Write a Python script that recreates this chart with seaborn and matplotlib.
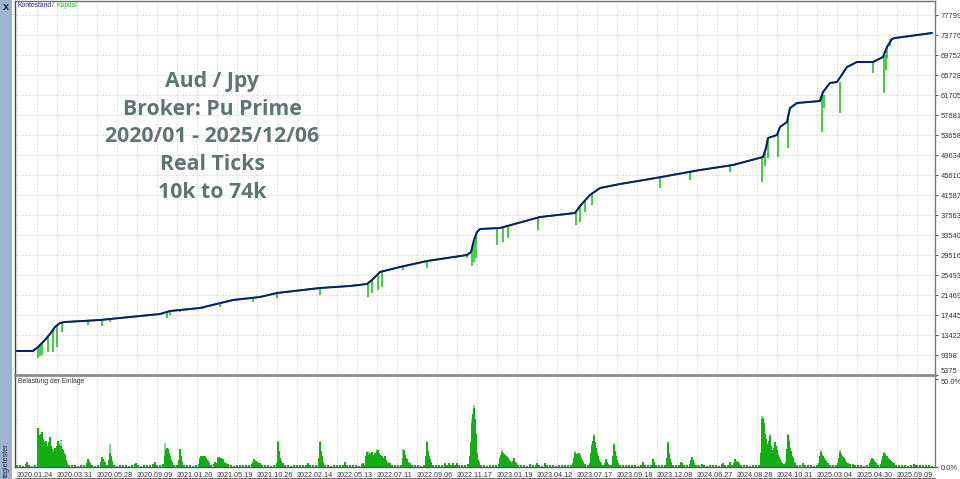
import matplotlib
matplotlib.use("Agg")
import matplotlib.pyplot as plt
import seaborn as sns
from matplotlib.patches import Rectangle

# balance curve (Kontostand): x = trade position, value in account currency
bal_x = [15, 33, 38, 45, 50, 55, 60, 65, 100, 130,
         160, 170, 200, 233, 260, 277, 320, 350, 367, 372,
         380, 400, 427, 467, 471, 474, 477, 480, 500, 540,
         575, 580, 590, 600, 620, 650, 700, 733, 763, 766,
         768, 777, 780, 787, 790, 797, 820, 823, 830, 837,
         843, 847, 857, 873, 883, 887, 892, 895, 932]
bal_usd = [10204, 10204, 11000, 12417, 13624, 15033, 15837, 16039, 16441, 17045,
           17648, 18252, 18856, 20465, 21069, 21873, 22880, 23282, 23684, 24489,
           26099, 27105, 28312, 29519, 30123, 32537, 34147, 34750, 34951, 37164,
           37969, 39377, 41591, 42999, 43804, 44810, 46621, 47627, 49237, 51047,
           53059, 53663, 55272, 56279, 59096, 60102, 60505, 62315, 64126, 64327,
           66138, 67345, 68351, 68351, 69357, 71369, 72978, 73178, 74184]

# equity (Kapital) drawdown spikes below the balance
spike_x = [38, 40, 42, 48, 53, 57, 62, 88, 102, 110,
           167, 170, 180, 203, 220, 253, 277, 320, 368, 372,
           378, 382, 403, 427, 467, 472, 474, 476, 497, 503,
           508, 538, 576, 580, 585, 592, 660, 690, 720, 730,
           762, 765, 768, 778, 788, 822, 824, 840, 873, 884,
           886, 887, 890]
spike_top = [11000, 11300, 11700, 13200, 14500, 15300, 15900, 16300, 16450, 16600,
             18000, 18250, 18450, 18900, 19900, 20900, 21870, 22880, 23800, 24490,
             25600, 26300, 27200, 28310, 29520, 31000, 32540, 33600, 34900, 35200,
             35500, 37100, 38200, 39380, 40500, 41900, 45100, 46300, 47200, 47500,
             49100, 50500, 53060, 53900, 57000, 61500, 61800, 64300, 68350, 69500,
             69800, 71370, 73000]
spike_low = [8795, 9198, 9399, 10003, 10003, 11009, 14027, 15435, 15234, 16039,
             16844, 17447, 18051, 18654, 19057, 20063, 20867, 21471, 21069, 21873,
             22477, 23080, 26501, 26903, 28915, 27306, 28110, 28915, 31531, 32135,
             32939, 34549, 35555, 36158, 38170, 39579, 42999, 44609, 47023, 46218,
             44206, 47400, 49036, 49237, 51047, 54266, 59096, 58090, 66138, 62113,
             66741, 69155, 71500]

y_ticks = [5375, 9398, 13422, 17445, 21469, 25493, 29516, 33540, 37563, 41587,
           45610, 49634, 53658, 57681, 61705, 65728, 69752, 73776, 77799]

date_labels = ["2020.01.24", "2020.03.31", "2020.05.28", "2020.09.09", "2021.01.20",
               "2021.05.19", "2021.10.26", "2022.02.14", "2022.05.13", "2022.07.11",
               "2022.09.06", "2022.11.17", "2023.01.19", "2023.04.12", "2023.07.17",
               "2023.09.18", "2023.12.08", "2024.06.27", "2024.08.28", "2024.10.31",
               "2025.03.04", "2025.04.30", "2025.09.09"]

# deposit load (Belastung der Einlage), percent
load_x = [17, 20, 23, 26, 27, 29, 32, 35, 38, 39, 40, 41, 42, 43, 44, 45, 46, 47, 48, 49,
          50, 51, 52, 53, 54, 55, 56, 57, 58, 59, 60, 61, 62, 63, 64, 65, 66, 67, 69, 72,
          75, 78, 81, 84, 87, 88, 89, 90, 92, 95, 98, 101, 102, 103, 104, 105, 107, 109, 110, 111,
          112, 114, 117, 120, 123, 126, 129, 132, 135, 136, 138, 141, 144, 147, 150, 153, 155, 157, 160, 163,
          165, 166, 167, 168, 169, 170, 171, 172, 174, 177, 179, 180, 181, 182, 184, 187, 190, 193, 196, 199,
          200, 201, 202, 203, 204, 205, 206, 207, 208, 209, 211, 214, 215, 217, 218, 219, 220, 221, 222, 223,
          224, 225, 226, 228, 231, 234, 237, 240, 243, 246, 249, 252, 253, 254, 255, 256, 257, 258, 259, 260,
          262, 265, 268, 271, 274, 277, 278, 279, 280, 281, 282, 283, 285, 288, 291, 294, 297, 300, 303, 306,
          308, 310, 313, 316, 319, 320, 321, 322, 323, 325, 328, 331, 334, 337, 340, 343, 345, 347, 350, 353,
          356, 359, 362, 363, 365, 366, 367, 368, 369, 370, 371, 372, 373, 374, 375, 376, 377, 378, 379, 380,
          381, 382, 383, 384, 385, 386, 387, 388, 390, 392, 395, 398, 401, 403, 404, 405, 406, 407, 408, 410,
          412, 415, 418, 421, 424, 426, 427, 428, 429, 430, 431, 433, 436, 439, 442, 445, 447, 449, 451, 453,
          455, 457, 459, 462, 465, 468, 470, 471, 472, 473, 474, 475, 476, 477, 478, 479, 481, 484, 487, 490,
          493, 496, 499, 500, 501, 502, 503, 504, 505, 506, 507, 508, 509, 510, 511, 512, 513, 514, 515, 516,
          518, 521, 524, 527, 530, 533, 536, 537, 539, 542, 545, 547, 550, 553, 556, 559, 562, 565, 568, 571,
          573, 574, 575, 576, 577, 578, 579, 580, 581, 582, 583, 585, 588, 590, 591, 592, 593, 594, 595, 596,
          597, 598, 599, 600, 601, 603, 605, 606, 607, 608, 610, 612, 613, 614, 615, 616, 617, 618, 620, 623,
          626, 629, 632, 635, 638, 641, 643, 645, 648, 651, 653, 654, 656, 659, 662, 665, 667, 668, 669, 670,
          671, 673, 676, 679, 681, 682, 684, 687, 690, 691, 692, 693, 694, 696, 699, 702, 704, 707, 710, 713,
          716, 719, 722, 723, 725, 728, 730, 732, 734, 735, 736, 737, 738, 739, 741, 744, 747, 750, 753, 756,
          759, 761, 762, 763, 764, 765, 766, 767, 768, 769, 770, 771, 772, 773, 774, 775, 776, 777, 778, 779,
          780, 781, 782, 784, 786, 787, 788, 789, 790, 791, 792, 793, 794, 795, 797, 800, 803, 805, 808, 811,
          814, 817, 819, 820, 821, 822, 823, 824, 825, 826, 827, 828, 830, 833, 836, 838, 839, 840, 841, 842,
          843, 844, 845, 846, 847, 848, 850, 853, 855, 858, 861, 864, 867, 870, 871, 872, 873, 874, 875, 876,
          878, 881, 882, 883, 884, 885, 886, 887, 888, 889, 890, 891, 892, 893, 894, 896, 899, 902, 905, 908,
          911, 914, 915, 917, 920, 923, 926, 929, 932]
load_pct = [1.0, 1.2, 0.8, 1.5, 3.0, 1.2, 0.8, 1.0, 22, 18, 17, 19, 20, 16, 14, 13, 15, 12, 11, 14,
            17, 12, 10, 8.5, 9, 11, 9.5, 12, 15, 13, 11, 12, 10, 9.5, 8, 7, 4, 2, 1.2, 0.9,
            1.0, 0.8, 1.1, 0.9, 2.5, 4.5, 3.5, 2.5, 1.0, 0.8, 1.0, 3, 5.7, 4.5, 3.5, 3, 1.2, 4, 8, 6,
            3.5, 1, 0.8, 1, 0.9, 1.1, 0.8, 1, 1.5, 2.5, 1, 0.8, 1, 0.9, 1.1, 1.5, 3, 1.2, 0.9, 1.5,
            6, 9.6, 11, 10, 8, 6, 4, 3, 1.2, 1, 4, 10, 6, 3, 1.2, 0.9, 1, 0.8, 1, 1.5,
            5, 6, 6.5, 6, 5.5, 6, 5, 4, 3.5, 2.5, 1, 1.5, 3, 2, 5, 5.5, 4.5, 5, 4, 4.5,
            3, 2.5, 2, 1.5, 1, 0.8, 1, 0.9, 1, 1.2, 0.9, 1.5, 3, 4.5, 3.5, 3.5, 3, 2.5, 2, 2,
            1.2, 0.9, 1, 0.8, 1, 2, 14, 9, 5, 3.5, 2.5, 2, 1.2, 1, 0.8, 1, 0.9, 1, 1, 1.2,
            2, 1, 0.9, 1, 5, 14, 9, 6, 3, 1.2, 1, 0.8, 1, 1, 0.9, 1.2, 3, 1, 0.9, 1,
            1, 0.8, 1.5, 2, 1.2, 6, 8.5, 7, 6, 8, 7, 8.5, 7, 6, 8, 7.5, 9, 9.5, 8, 7,
            6.5, 6, 5, 4.5, 6, 4, 3, 2.5, 2, 1, 0.9, 1.2, 1, 5, 9.5, 7, 5, 4.5, 3, 2,
            1, 0.9, 1, 0.8, 1, 6, 14, 9, 6, 4.5, 3, 1.2, 1, 0.9, 1, 2.5, 1, 2, 1, 2.5,
            1, 2.5, 1, 0.9, 1, 1.5, 6, 14, 25, 30, 33.5, 27, 19, 8, 4, 3, 1.2, 1, 0.8, 1,
            0.9, 1, 1.5, 5, 7, 8.5, 8, 7.5, 7, 6, 5.5, 5, 4, 3.5, 3, 2.5, 3.5, 5, 3, 2,
            1, 0.9, 1, 0.8, 1.5, 1, 0.9, 2.3, 1, 0.8, 2.3, 1, 0.9, 1, 0.8, 1, 1.2, 0.9, 1, 1.2,
            2, 5, 8, 7, 7.5, 6, 8, 7, 5, 4, 3, 1.5, 1, 2, 8, 12.5, 15, 17.6, 14, 11,
            8, 6, 4, 3, 2, 1, 2, 4.5, 3, 1.5, 1, 1.2, 6, 12.5, 9, 6, 4, 2, 1, 0.9,
            1, 1, 0.9, 1, 0.8, 1, 3, 1, 0.9, 1, 4.5, 3, 1, 1, 0.9, 1, 5, 13.6, 8, 4.5,
            3, 1.2, 0.9, 1, 3, 2, 1, 0.9, 1.5, 4, 5.7, 4, 2.5, 1, 0.9, 1.5, 1, 0.8, 1, 0.9,
            1, 0.8, 1.5, 2.5, 1, 1, 3, 1.2, 2, 4.5, 3.5, 2.5, 3, 2, 1, 0.9, 1, 0.8, 1, 0.9,
            1, 8, 27, 28, 25, 19, 16, 11, 13, 15, 17.6, 12, 9.5, 8, 11, 14, 12, 9.5, 7, 5.5,
            4.5, 3, 2, 1.5, 3, 10, 18, 15, 11, 9, 6.5, 5, 3, 2, 1.2, 1, 2, 1, 0.9, 1,
            0.8, 1, 2, 6, 8.5, 7, 6.5, 5, 4, 3.5, 2.5, 2, 1, 0.9, 1, 2, 5, 8.5, 7.5, 6.5,
            5.7, 5, 4, 3, 2.5, 2, 1.5, 1.5, 1, 0.9, 1, 0.8, 1, 2, 4, 5, 4.5, 3.5, 3, 2,
            1, 1.5, 4, 6.5, 8, 7.5, 6.5, 6, 5, 4.5, 4, 3.5, 3, 2.5, 2, 1.2, 1, 0.9, 1, 0.8,
            1, 1.5, 1.2, 1, 0.9, 1, 0.9, 1, 0.8]

# lighter "peak" load drawn behind the main bars
peak_x = [40, 48, 61, 110, 165, 278, 320, 368, 377, 403, 427, 472, 474, 502, 575,
          594, 614, 668, 762, 770, 788, 821, 840, 884]
peak_pct = [18, 13, 15.5, 13, 13.6, 15, 15, 9, 10, 10, 15, 27, 35, 9.5, 9,
            19, 13.5, 14.5, 29, 19, 19, 9.5, 9.5, 8.5]

title_lines = ["Aud / Jpy", "Broker: Pu Prime", "2020/01 - 2025/12/06", "Real Ticks", "10k to 74k"]

sns.set_theme(style="white")
plt.rcParams['font.family'] = ['Liberation Sans', 'DejaVu Sans']

W, H = 960, 479
fig = plt.figure(figsize=(W / 100, H / 100), dpi=100)
fig.patch.set_facecolor("white")


def fx(px):
    return px / W


def fy(py):
    return 1 - py / H


navy = "#0C1C72"
green = "#12BE12"
grid_kw = dict(color="#D2D2D2", linestyle=(0, (2, 2)), linewidth=0.6)

ax = fig.add_axes([fx(15), fy(375), 920 / W, 374 / H])
ax2 = fig.add_axes([fx(15), fy(467), 920 / W, 90 / H])

tick_pos = [17 + 40 * i for i in range(len(date_labels))]
minor_pos = [37 + 40 * i for i in range(len(date_labels))]

# main panel
sns.lineplot(x=bal_x, y=bal_usd, ax=ax, color=green, linewidth=1.3)
ax.vlines(spike_x, spike_low, spike_top, color=green, linewidth=1.1)
sns.lineplot(x=bal_x, y=bal_usd, ax=ax, color=navy, linewidth=1.4)
ax.set_xlim(15, 935)
ax.set_ylim(5375, 80624)
ax.set_yticks(y_ticks)
ax.set_yticklabels([str(v) for v in y_ticks])
ax.yaxis.tick_right()
ax.tick_params(axis="y", length=2, width=0.6, pad=2, labelsize=5.4, colors="#333333")
ax.get_yticklabels()[0].set_va("bottom")
ax.set_xticks(tick_pos)
ax.set_xticks(minor_pos, minor=True)
ax.tick_params(axis="x", which="both", length=0, labelbottom=False)
ax.grid(True, axis="x", which="both", **grid_kw)
ax.grid(True, axis="y", which="major", **grid_kw)
ax.set_xlabel("")
ax.set_ylabel("")
for side, col, lw in [("top", "#6E6E6E", 1.0), ("left", "#4A4A4A", 1.0),
                      ("right", "#7A7A7A", 1.0), ("bottom", "#8A8A8A", 2.0)]:
    ax.spines[side].set_color(col)
    ax.spines[side].set_linewidth(lw)

# deposit load panel
ax2.bar(peak_x, peak_pct, width=2.0, color="#86D886", linewidth=0)
ax2.bar(load_x, load_pct, width=2.2, color="#14AE14", linewidth=0)
ax2.set_xlim(15, 935)
ax2.set_ylim(0, 51.1)
ax2.set_yticks([0, 50])
ax2.set_yticklabels(["0.0%", "50.0%"])
ax2.yaxis.tick_right()
ax2.tick_params(axis="y", length=2, width=0.6, pad=2, labelsize=5.4, colors="#333333")
ax2.get_yticklabels()[1].set_va("top")
ax2.set_xticks(tick_pos)
ax2.set_xticklabels(date_labels, ha="left")
ax2.set_xticks(minor_pos, minor=True)
ax2.tick_params(axis="x", which="major", length=2, width=0.6, pad=1.5, labelsize=5.2, colors="#333333")
ax2.tick_params(axis="x", which="minor", length=0)
ax2.grid(True, axis="x", which="both", **grid_kw)
ax2.spines["top"].set_visible(False)
for side, col in [("left", "#4A4A4A"), ("right", "#7A7A7A"), ("bottom", "#555555")]:
    ax2.spines[side].set_color(col)
    ax2.spines[side].set_linewidth(1.0)

# panel captions
fig.text(fx(18), fy(5.5), "Kontostand", fontsize=4.9, color="#24248A", va="center")
fig.text(fx(52.5), fy(5.5), "/", fontsize=4.9, color="#444444", va="center")
fig.text(fx(56.5), fy(5.5), "Kapital", fontsize=4.9, color="#2DB52D", va="center")
fig.text(fx(18), fy(381.5), "Belastung der Einlage", fontsize=4.9, color="#333333", va="center")

# overlay title
fig.text(fx(212), fy(137), "\n".join(title_lines), ha="center", va="center",
         fontsize=15.3, fontweight="bold", color="#5E7573", family="Open Sans",
         linespacing=1.42)

# tester side bar
fig.patches.append(Rectangle((0, 0), fx(12), 1, transform=fig.transFigure,
                             facecolor="#9CB4D2", edgecolor="none", zorder=0))
fig.text(fx(6.5), fy(7.5), "x", fontsize=8, fontweight="bold", color="#2A2A2A",
         ha="center", va="center")
fig.text(fx(6.5), fy(477), "tegietester", fontsize=5.2, color="#2A2A2A",
         rotation=90, ha="center", va="bottom")
fig.add_artist(plt.Line2D([fx(15), fx(935)], [fy(477.5), fy(477.5)],
                          transform=fig.transFigure, color="#777777", linewidth=0.8))

fig.savefig("out.png", dpi=100)
